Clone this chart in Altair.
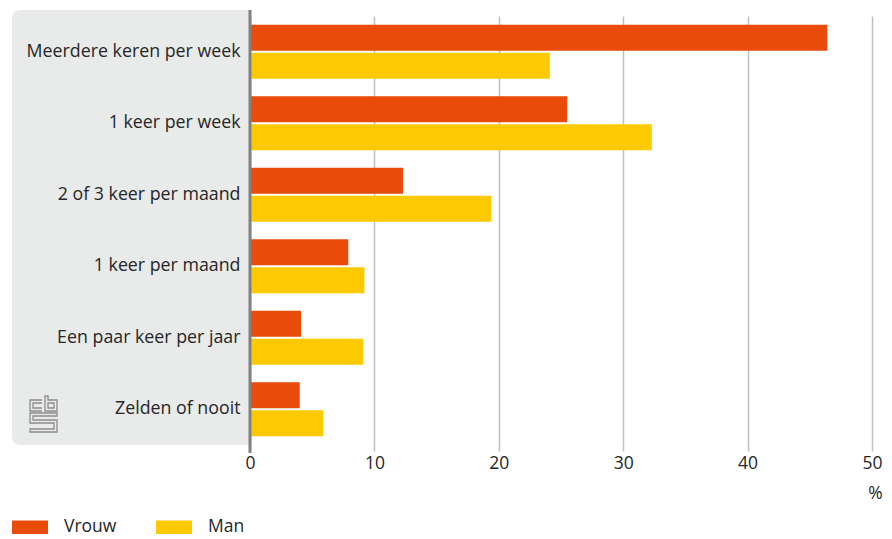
import altair as alt
import pandas as pd

categories = [
    "Meerdere keren per week",
    "1 keer per week",
    "2 of 3 keer per maand",
    "1 keer per maand",
    "Een paar keer per jaar",
    "Zelden of nooit",
]
series = ["Vrouw", "Man"]
vrouw = [46.4, 25.5, 12.3, 7.9, 4.1, 4.0]
man = [24.1, 32.3, 19.4, 9.2, 9.1, 5.9]
x_ticks = [0, 10, 20, 30, 40, 50]
colors = ["#E94C0A", "#FDC900"]

rows = []
for c, v, m in zip(categories, vrouw, man):
    rows.append({"cat": c, "sex": "Vrouw", "value": v})
    rows.append({"cat": c, "sex": "Man", "value": m})
df = pd.DataFrame(rows)

FONT = "Open Sans"
FS = 17.5
TXT = "#262626"
W, H = 622, 429

panel = alt.Chart(alt.Data(values=[{}])).mark_rect(
    color="#E9EAEA", cornerRadiusTopLeft=8, cornerRadiusBottomLeft=8
).encode(
    x=alt.value(-238), x2=alt.value(0), y=alt.value(-6), y2=alt.value(H)
)

logo_path = (
    "M-1.5,-14H-13.5V-3H-1.5M-1.5,-11H-10.5V-6H-1.5"
    "M1.5,-18V-3H13.5V-14H4.5V-18Z"
    "M4.5,-11H10.5V-6H4.5Z"
    "M13.5,-1H-13.5V9H10.5V15H-13.5V18H13.5V6H-10.5V2H13.5Z"
)
logo = alt.Chart(alt.Data(values=[{}])).mark_point(
    shape=logo_path, size=4, filled=False, stroke="#8C8C8C", strokeWidth=1.3, opacity=1
).encode(x=alt.value(-206.5), y=alt.value(398))

bars = alt.Chart(df).mark_bar().encode(
    y=alt.Y(
        "cat:N",
        sort=categories,
        scale=alt.Scale(paddingInner=0.245, paddingOuter=0.1225),
        axis=alt.Axis(
            title=None, domain=False, ticks=False, labelPadding=10, zindex=2,
            labelFont=FONT, labelFontSize=17.8, labelColor=TXT, labelLimit=300,
        ),
    ),
    yOffset=alt.YOffset("sex:N", sort=series, scale=alt.Scale(paddingInner=0.07)),
    x=alt.X(
        "value:Q",
        scale=alt.Scale(domain=[0, 50], nice=False, zero=True),
        axis=alt.Axis(
            values=x_ticks, title="%", titleX=W + 3, titleY=48, titleAlign="center",
            titleBaseline="middle", titleFont=FONT, titleFontSize=FS,
            titleFontWeight="normal", titleColor=TXT, labelFlush=False,
            domain=False, grid=True, gridColor="#C0C0C0", gridWidth=1.5,
            tickColor="#C0C0C0", tickWidth=1.5, tickSize=6, labelPadding=3,
            labelFont=FONT, labelFontSize=FS, labelColor=TXT,
        ),
    ),
    color=alt.Color(
        "sex:N",
        sort=series,
        scale=alt.Scale(domain=series, range=colors),
        legend=alt.Legend(
            title=None, orient="none", legendX=-238, legendY=493,
            direction="horizontal", columns=2, gridAlign="all",
            symbolType="M-1,-0.375H1V0.375H-1Z", symbolSize=1296,
            symbolStrokeWidth=0, symbolOpacity=1, labelOffset=16,
            columnPadding=39, labelFont=FONT, labelFontSize=FS,
            labelColor=TXT, padding=0,
        ),
    ),
)

axis_line = alt.Chart(alt.Data(values=[{}])).mark_rule(
    color="#808080", strokeWidth=3
).encode(x=alt.value(0), y=alt.value(-6), y2=alt.value(H + 8))

chart = alt.layer(panel, logo, bars, axis_line).properties(
    width=W, height=H,
    padding={"left": 242, "top": 8, "right": 12, "bottom": 91},
    autosize="none",
).configure_view(stroke=None)

chart.save("out.html", embed_options={"renderer": "svg", "actions": False})
